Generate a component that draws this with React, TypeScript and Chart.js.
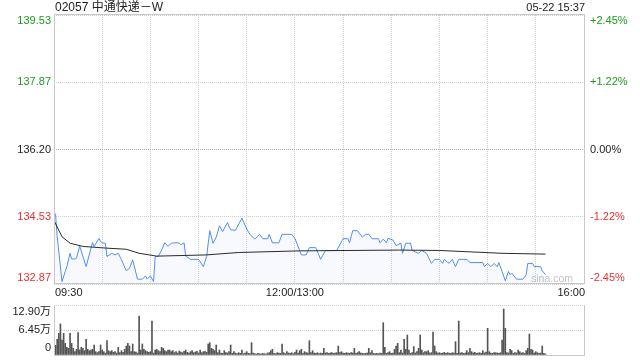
import React, { useEffect, useRef } from 'react';
import { Chart, registerables } from 'chart.js';

Chart.register(...registerables);

const TITLE = '02057 中通快递－W';
const STAMP = '05-22 15:37';
const WATERMARK = 'sina.com';

const priceTicks = [139.53, 137.87, 136.2, 134.53, 132.87];
const pctTicks = ['+2.45%', '+1.22%', '0.00%', '-1.22%', '-2.45%'];
const tickTone = ['up', 'up', 'flat', 'down', 'down'];

const gridMinutes = [0, 30, 60, 90, 120, 150, 180, 210, 240, 270, 300, 330];
const timeTickMinutes = [0, 150, 330];
const timeTickLabels = ['09:30', '12:00/13:00', '16:00'];

// minutes since 09:30 (lunch break removed), price
const priceMinutes = [
  0, 1, 2, 5, 7, 8, 10, 11, 13, 14, 16, 20, 24, 25, 28, 29, 30, 32, 33, 36,
  38, 40, 42, 45, 47, 49, 52, 55, 57, 58, 60, 62, 63, 65, 67, 69, 71, 73, 75, 77,
  78, 79, 81, 82, 85, 90, 93, 95, 97, 99, 101, 103, 105, 108, 110, 113, 117, 120, 122, 125,
  128, 130, 133, 134, 136, 140, 142, 148, 150, 154, 157, 159, 163, 166, 169, 176, 180, 183, 184, 186,
  189, 192, 194, 196, 198, 202, 203, 205, 207, 208, 211, 213, 216, 217, 219, 222, 223, 227, 229, 232,
  235, 237, 240, 242, 243, 246, 248, 250, 252, 257, 259, 267, 268, 270, 272, 274, 276, 277, 279, 281,
  283, 284, 285, 288, 292, 294, 295, 298, 299, 303, 304, 306,
];
const priceValues = [
  134.66, 134.58, 134.04, 132.93, 133.18, 133.3, 133.63, 133.49, 133.49, 133.51, 133.81, 133.3, 133.9, 133.8, 134.0, 133.92, 133.89, 133.88, 133.55, 133.63,
  133.59, 133.63, 133.47, 133.2, 133.26, 133.47, 132.99, 132.99, 133.07, 132.99, 133.07, 132.93, 133.55, 133.56, 133.71, 133.89, 133.8, 133.88, 133.89, 133.89,
  133.88, 133.84, 133.89, 133.56, 133.48, 133.48, 133.3, 133.55, 134.19, 133.88, 134.03, 134.31, 134.17, 134.39, 134.21, 134.2, 134.5, 134.23, 134.1, 133.98,
  134.1, 133.99, 133.99, 134.1, 133.89, 133.89, 134.1, 134.1, 134.0, 133.59, 133.59, 133.77, 133.77, 133.48, 133.7, 133.7, 133.99, 133.99, 133.89, 134.19,
  134.19, 134.03, 134.1, 134.1, 133.99, 133.99, 133.89, 133.98, 133.89, 134.0, 133.96, 133.82, 133.88, 133.63, 133.88, 133.88, 133.7, 133.63, 133.7, 133.63,
  133.38, 133.48, 133.48, 133.38, 133.48, 133.38, 133.48, 133.3, 133.48, 133.48, 133.4, 133.4, 133.3, 133.38, 133.3, 133.38, 133.3, 133.4, 133.18, 132.95,
  133.18, 133.1, 133.14, 132.99, 132.99, 133.1, 133.38, 133.38, 133.3, 133.3, 133.2, 133.1,
];

const avgMinutes = [0, 5, 10, 18, 32, 45, 53, 64, 95, 115, 153, 215, 240, 279, 306];
const avgValues = [134.44, 134.04, 133.88, 133.8, 133.76, 133.73, 133.63, 133.56, 133.59, 133.65, 133.69, 133.71, 133.7, 133.63, 133.61];

// per-minute volume, index = minute since 09:30
const volumeValues = [
  129000, 25000, 40400, 55900, 80000, 38700, 55900, 30100, 19800, 17200,
  55900, 30100, 17200, 8600, 14600, 57600, 12900, 19800, 17200, 11200,
  40400, 14600, 11200, 12900, 14600, 25800, 8600, 6000, 8600, 25800,
  12900, 8600, 5000, 37000, 11200, 8600, 11200, 6900, 8600, 5000,
  19800, 6000, 11200, 7000, 14600, 23200, 30100, 23200, 9000, 28400,
  8600, 7700, 5000, 100600, 12900, 28400, 14600, 11200, 8600, 6900,
  8600, 87700, 5000, 12900, 14600, 11200, 8600, 19800, 17200, 11200,
  8600, 12900, 12900, 8600, 11200, 6000, 9000, 5000, 10300, 7700,
  6000, 9500, 12900, 6900, 5000, 8600, 11200, 6000, 7700, 9500,
  5200, 12900, 6000, 8600, 9500, 6900, 28400, 31800, 17200, 14600,
  11200, 25800, 6000, 12900, 5000, 4300, 11200, 6000, 5200, 8600,
  25800, 4300, 8600, 5000, 3400, 6000, 4300, 12900, 3400, 5000,
  8600, 4300, 3400, 31800, 5200, 3400, 2600, 4300, 3400, 2600,
  4300, 3400, 2600, 5200, 6000, 11200, 14600, 4300, 3400, 6000,
  5200, 4300, 28400, 6000, 3400, 8600, 5200, 4300, 6000, 3400,
  6900, 12900, 5200, 11200, 14600, 4300, 8600, 6000, 5200, 37000,
  6000, 11200, 5200, 4300, 6000, 3400, 5200, 4300, 17200, 5200,
  6000, 4300, 5200, 6000, 4300, 5200, 6000, 23200, 6000, 8600,
  5200, 4300, 6000, 5200, 4300, 6000, 5200, 17200, 4300, 6000,
  8600, 5200, 4300, 3400, 4300, 5200, 17200, 6000, 11200, 4300,
  3400, 4300, 3400, 5200, 4300, 83400, 19800, 4300, 6000, 8600,
  4300, 5200, 14600, 23200, 30100, 6000, 12900, 5200, 40400, 14600,
  51600, 12900, 4300, 6000, 21500, 5200, 8600, 17200, 51600, 12900,
  6000, 8600, 8600, 11200, 5200, 6000, 59300, 23200, 8600, 5200,
  6000, 4300, 5200, 6900, 4300, 6000, 5200, 4300, 6000, 5200,
  34400, 4300, 87700, 5200, 6000, 4300, 5200, 11200, 6000, 17200,
  8600, 5200, 6900, 4300, 5200, 6000, 4300, 11200, 5200, 7700,
  68800, 8600, 5200, 4300, 6000, 6000, 5200, 4300, 6000, 38700,
  118700, 68800, 6000, 5200, 14600, 11200, 4300, 6000, 5200, 12900,
  8600, 5200, 6000, 4300, 11200, 17200, 54200, 14600, 12900, 5200,
  8600, 6000, 4300, 5200, 23200, 4300, 2500,
];
const volTicks = [129000, 64500, 0];
const volTickLabels = ['12.90万', '6.45万', '0'];

const FONT = '"Liberation Sans", Arial, Helvetica, "Noto Sans CJK SC", sans-serif';
const UP = '#1e9b1e';
const DOWN = '#ea3030';
const FLAT = '#222';
const GRID = '#cfcfcf';
const FRAME = '#c8c8c8';

const toneColor = (t: string) => (t === 'up' ? UP : t === 'down' ? DOWN : FLAT);

const priceDecor = {
  id: 'priceDecor',
  beforeDatasetsDraw(chart: any) {
    const { ctx, chartArea: a } = chart;
    ctx.save();
    ctx.font = `10.5px ${FONT}`;
    ctx.fillStyle = '#c4c4c4';
    ctx.textAlign = 'right';
    ctx.textBaseline = 'middle';
    ctx.fillText(WATERMARK, a.right - 11, a.bottom - 5);
    ctx.restore();
  },
  afterDraw(chart: any) {
    const { ctx, chartArea: a, scales } = chart;
    const y = scales.y;
    const x = scales.x;
    ctx.save();
    ctx.strokeStyle = FRAME;
    ctx.lineWidth = 1;
    ctx.strokeRect(a.left + 0.5, a.top - 0.5, a.right - a.left, a.bottom - a.top);

    ctx.font = `12px ${FONT}`;
    ctx.fillStyle = '#222';
    ctx.textBaseline = 'middle';
    ctx.textAlign = 'left';
    ctx.fillText(TITLE, a.left + 1, 8);
    ctx.font = `11px ${FONT}`;
    ctx.textAlign = 'right';
    ctx.fillText(STAMP, a.right + 1, 8);

    const n = priceTicks.length;
    priceTicks.forEach((v, i) => {
      let py = y.getPixelForValue(v);
      if (i === 0) py += 5.5;
      if (i === n - 1) py -= 6.5;
      ctx.fillStyle = toneColor(tickTone[i]);
      ctx.textAlign = 'right';
      ctx.fillText(v.toFixed(2), a.left - 3, py);
      ctx.textAlign = 'left';
      ctx.fillText(pctTicks[i], a.right + 6, py);
    });

    ctx.fillStyle = '#222';
    timeTickMinutes.forEach((m, i) => {
      const px = x.getPixelForValue(m);
      const last = i === timeTickMinutes.length - 1;
      ctx.textAlign = i === 0 ? 'left' : last ? 'right' : 'center';
      ctx.fillText(timeTickLabels[i], i === 0 || last ? px + 1 : px, a.bottom + 9);
    });
    ctx.restore();
  },
};

const volDecor = {
  id: 'volDecor',
  afterDraw(chart: any) {
    const { ctx, chartArea: a, scales } = chart;
    const y = scales.y;
    ctx.save();
    ctx.strokeStyle = FRAME;
    ctx.lineWidth = 1;
    ctx.beginPath();
    ctx.moveTo(a.left + 0.5, a.top);
    ctx.lineTo(a.left + 0.5, a.bottom + 0.5);
    ctx.lineTo(a.right + 0.5, a.bottom + 0.5);
    ctx.lineTo(a.right + 0.5, a.top);
    ctx.stroke();
    ctx.font = `11px ${FONT}`;
    ctx.fillStyle = '#222';
    ctx.textAlign = 'right';
    ctx.textBaseline = 'middle';
    volTicks.forEach((v, i) => {
      let py = y.getPixelForValue(v);
      if (i === 0) py += 6.5;
      if (i === volTicks.length - 1) py -= 7;
      ctx.fillText(volTickLabels[i], a.left - 3, py);
    });
    ctx.restore();
  },
};

export default function App() {
  const priceRef = useRef<HTMLCanvasElement | null>(null);
  const volRef = useRef<HTMLCanvasElement | null>(null);

  useEffect(() => {
    const pc = priceRef.current;
    const vc = volRef.current;
    if (!pc || !vc) return;

    const priceChart = new Chart(pc, {
      type: 'line',
      data: {
        datasets: [
          {
            label: 'avg',
            data: avgMinutes.map((m, i) => ({ x: m, y: avgValues[i] })),
            borderColor: '#2a2a2a',
            borderWidth: 1,
            pointRadius: 0,
            fill: false,
            tension: 0,
          },
          {
            label: 'price',
            data: priceMinutes.map((m, i) => ({ x: m, y: priceValues[i] })),
            borderColor: '#4f8ef0',
            borderWidth: 1,
            pointRadius: 0,
            fill: 'start',
            backgroundColor: 'rgba(90,145,240,0.05)',
            tension: 0,
          },
        ],
      },
      options: {
        animation: false,
        responsive: false,
        events: [],
        layout: { padding: { top: 15, bottom: 16, left: 0, right: 56 } },
        plugins: { legend: { display: false }, tooltip: { enabled: false } },
        scales: {
          x: {
            type: 'linear',
            min: 0,
            max: 330,
            offset: false,
            afterBuildTicks: (s: any) => {
              s.ticks = gridMinutes.map((v) => ({ value: v }));
            },
            ticks: { display: false },
            grid: { color: GRID, drawTicks: false },
            border: { display: false, dash: [1, 1] },
            afterFit: (s: any) => {
              s.height = 0;
            },
          },
          y: {
            type: 'linear',
            min: priceTicks[priceTicks.length - 1],
            max: priceTicks[0],
            afterBuildTicks: (s: any) => {
              s.ticks = priceTicks.map((v) => ({ value: v }));
            },
            ticks: { display: false },
            grid: {
              color: (c: any) => (c.tick && Math.abs(c.tick.value - 136.2) < 0.001 ? '#a8a8a8' : GRID),
              drawTicks: false,
            },
            border: { display: false, dash: [1, 1] },
            afterFit: (s: any) => {
              s.width = 54;
            },
          },
        },
      },
      plugins: [priceDecor],
    });

    const volChart = new Chart(vc, {
      type: 'bar',
      data: {
        datasets: [
          {
            label: 'vol',
            data: volumeValues.map((v, i) => ({ x: i, y: v })),
            backgroundColor: '#555',
            borderWidth: 0,
            barThickness: 1,
          },
        ],
      },
      options: {
        animation: false,
        responsive: false,
        events: [],
        layout: { padding: { top: 5, bottom: 5, left: 0, right: 56 } },
        plugins: { legend: { display: false }, tooltip: { enabled: false } },
        scales: {
          x: {
            type: 'linear',
            min: 0,
            max: 330,
            offset: false,
            display: false,
            grid: { offset: false },
          },
          y: {
            type: 'linear',
            min: 0,
            max: volTicks[0],
            afterBuildTicks: (s: any) => {
              s.ticks = volTicks.map((v) => ({ value: v }));
            },
            ticks: { display: false },
            grid: { color: GRID, drawTicks: false },
            border: { display: false, dash: [1, 1] },
            afterFit: (s: any) => {
              s.width = 54;
            },
          },
        },
      },
      plugins: [volDecor],
    });

    return () => {
      priceChart.destroy();
      volChart.destroy();
    };
  }, []);

  return (
    <div style={{ position: 'absolute', left: 0, top: 0, width: 640, height: 360, background: '#fff' }}>
      <canvas ref={priceRef} width={640} height={300} style={{ position: 'absolute', left: 0, top: 0, display: 'block' }} />
      <canvas ref={volRef} width={640} height={60} style={{ position: 'absolute', left: 0, top: 300, display: 'block' }} />
    </div>
  );
}
